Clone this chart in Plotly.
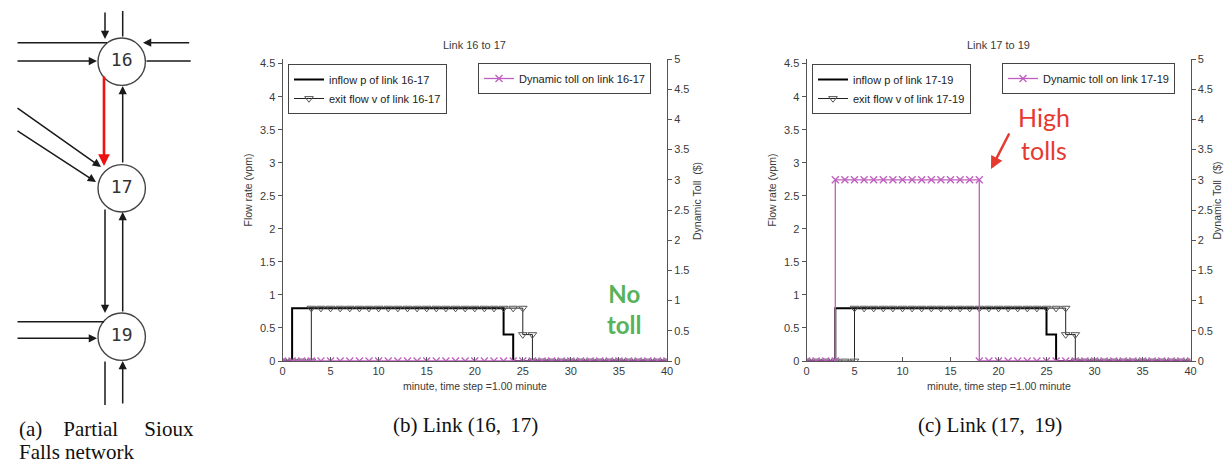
import plotly.graph_objects as go

# ---------------- data ----------------
minutes = list(range(41))

inflow_b = [0, 0.8, 0.8, 0.8, 0.8, 0.8, 0.8, 0.8, 0.8, 0.8, 0.8, 0.8, 0.8, 0.8, 0.8, 0.8, 0.8, 0.8, 0.8, 0.8,
            0.8, 0.8, 0.8, 0.4, 0, 0, 0, 0, 0, 0, 0, 0, 0, 0, 0, 0, 0, 0, 0, 0, 0]
exit_b = [0, 0, 0, 0.8, 0.8, 0.8, 0.8, 0.8, 0.8, 0.8, 0.8, 0.8, 0.8, 0.8, 0.8, 0.8, 0.8, 0.8, 0.8, 0.8,
          0.8, 0.8, 0.8, 0.8, 0.8, 0.4, 0, 0, 0, 0, 0, 0, 0, 0, 0, 0, 0, 0, 0, 0, 0]
toll_b = [0, 0, 0, 0, 0, 0, 0, 0, 0, 0, 0, 0, 0, 0, 0, 0, 0, 0, 0, 0,
          0, 0, 0, 0, 0, 0, 0, 0, 0, 0, 0, 0, 0, 0, 0, 0, 0, 0, 0, 0, 0]

inflow_c = [0, 0, 0, 0.8, 0.8, 0.8, 0.8, 0.8, 0.8, 0.8, 0.8, 0.8, 0.8, 0.8, 0.8, 0.8, 0.8, 0.8, 0.8, 0.8,
            0.8, 0.8, 0.8, 0.8, 0.8, 0.4, 0, 0, 0, 0, 0, 0, 0, 0, 0, 0, 0, 0, 0, 0, 0]
exit_c = [0, 0, 0, 0, 0, 0.8, 0.8, 0.8, 0.8, 0.8, 0.8, 0.8, 0.8, 0.8, 0.8, 0.8, 0.8, 0.8, 0.8, 0.8,
          0.8, 0.8, 0.8, 0.8, 0.8, 0.8, 0.8, 0.4, 0, 0, 0, 0, 0, 0, 0, 0, 0, 0, 0, 0, 0]
toll_c = [0, 0, 0, 3, 3, 3, 3, 3, 3, 3, 3, 3, 3, 3, 3, 3, 3, 3, 0, 0,
          0, 0, 0, 0, 0, 0, 0, 0, 0, 0, 0, 0, 0, 0, 0, 0, 0, 0, 0, 0, 0]

x_ticks = [0, 5, 10, 15, 20, 25, 30, 35, 40]
flow_ticks = [0, 0.5, 1, 1.5, 2, 2.5, 3, 3.5, 4, 4.5]
toll_ticks = [0, 0.5, 1, 1.5, 2, 2.5, 3, 3.5, 4, 4.5, 5]

# network diagram (panel a), in the diagram's own pixel-like units
node_ids = ["16", "17", "19"]
node_x = [121.7, 121.7, 121.7]
node_y = [61.7, 188.3, 336.7]
node_r = 23.7
# links: x0, y0, x1, y1, arrow (1 = arrowhead at x1,y1)
link_x0 = [105, 122.7, 16, 16, 190.7, 145, 122.7, 16, 16, 105, 122.7, 16, 16, 105, 122.7]
link_y0 = [11, 38, 42.7, 61, 42.7, 61, 164, 107, 130, 208, 313, 321.7, 338.3, 360, 405]
link_x1 = [105, 122.7, 107, 97, 143, 190.7, 122.7, 101, 96, 105, 122.7, 104, 97, 105, 122.7]
link_y1 = [39, 11, 42.7, 61, 42.7, 61, 86, 167, 182, 313, 212, 321.7, 338.3, 405, 361]
link_arrow = [1, 0, 0, 1, 1, 0, 1, 1, 1, 1, 1, 0, 1, 0, 1]
red_x0, red_y0, red_x1, red_y1 = [104], [75], [104], [166]


def stairs(t, v):
    xs, ys = [], []
    for i in range(len(t)):
        if i > 0 and v[i] != v[i - 1]:
            xs.append(t[i]); ys.append(v[i - 1])
        xs.append(t[i]); ys.append(v[i])
    return xs, ys


W, H = 1224, 463
def px(x): return x / W
def py(y): return 1 - y / H

PURPLE = "#bf5fbf"
TXT = "#3a3a3a"
FONT = "Liberation Sans"

fig = go.Figure()

panels = [
    dict(link="16-17", inflow=inflow_b, exit=exit_b, toll=toll_b, xa="x", ya="y", ya2="y2",
         lg1="legend", lg2="legend2"),
    dict(link="17-19", inflow=inflow_c, exit=exit_c, toll=toll_c, xa="x2", ya="y3", ya2="y4",
         lg1="legend3", lg2="legend4"),
]

for p in panels:
    xi, yi = stairs(minutes, p["inflow"])
    fig.add_trace(go.Scatter(x=xi, y=yi, mode="lines", line=dict(color="black", width=2),
                             name="inflow p of link " + p["link"], xaxis=p["xa"], yaxis=p["ya"],
                             legend=p["lg1"]))
    xe, ye = stairs(minutes, p["exit"])
    fig.add_trace(go.Scatter(x=xe, y=ye, mode="lines+markers", line=dict(color="#222", width=1),
                             marker=dict(symbol="triangle-down-open", size=7.5, color="#555",
                                         line=dict(width=1, color="#555")),
                             name="exit flow v of link " + p["link"], xaxis=p["xa"], yaxis=p["ya"],
                             legend=p["lg1"]))
    xt, yt = stairs(minutes, p["toll"])
    fig.add_trace(go.Scatter(x=xt, y=yt, mode="lines+markers", line=dict(color=PURPLE, width=1.3),
                             marker=dict(symbol="x-thin", size=7, color=PURPLE,
                                         line=dict(width=1.3, color=PURPLE)),
                             name="Dynamic toll on link " + p["link"], xaxis=p["xa"], yaxis=p["ya2"],
                             legend=p["lg2"]))

# diagram node labels
fig.add_trace(go.Scatter(x=node_x, y=node_y, mode="text", text=node_ids,
                         textfont=dict(family="DejaVu Sans Mono", size=18, color="#333"),
                         xaxis="x3", yaxis="y5", showlegend=False, hoverinfo="skip"))

shapes = []
for nx, ny in zip(node_x, node_y):
    shapes.append(dict(type="circle", xref="x3", yref="y5", x0=nx - node_r, x1=nx + node_r,
                       y0=ny - node_r, y1=ny + node_r, line=dict(color="#444", width=1.4),
                       fillcolor="rgba(0,0,0,0)", layer="above"))

annotations = []
for x0, y0, x1, y1, a in zip(link_x0, link_y0, link_x1, link_y1, link_arrow):
    annotations.append(dict(x=x1, y=y1, ax=x0, ay=y0, xref="x3", yref="y5", axref="x3", ayref="y5",
                            text="", showarrow=True, arrowhead=2 if a else 0, arrowsize=1.1,
                            arrowwidth=1.5, arrowcolor="#1a1a1a", standoff=0))
for x0, y0, x1, y1 in zip(red_x0, red_y0, red_x1, red_y1):
    annotations.append(dict(x=x1, y=y1, ax=x0, ay=y0, xref="x3", yref="y5", axref="x3", ayref="y5",
                            text="", showarrow=True, arrowhead=2, arrowsize=0.9,
                            arrowwidth=2.6, arrowcolor="#ee1111", standoff=0))


def label(x, y, text, size, color=TXT, family=FONT, angle=0, xanchor="center"):
    annotations.append(dict(x=px(x), y=py(y), xref="paper", yref="paper", text=text,
                            xanchor=xanchor, yanchor="middle", textangle=angle, showarrow=False,
                            font=dict(family=family, size=size, color=color)))


# panel geometry
top, bot = 59, 361
pb = (282.5, 667)
pc = (806.5, 1190.5)

label((pb[0] + pb[1]) / 2, 45, "Link 16 to 17", 11)
label((pc[0] + pc[1]) / 2, 45, "Link 17 to 19", 11)
for (l, r), rx in [(pb, 697), (pc, 1216.5)]:
    label((l + r) / 2, 386, "minute, time step =1.00 minute", 10.5)
    label(l - 35, 190, "Flow rate (vpm)", 10.5, angle=-90)
    label(rx, 201, "Dynamic Toll  ($)", 10.5, angle=-90)

# captions
CAP = "Liberation Serif"
label(17, 429, "(a)\u00a0\u00a0\u00a0\u00a0Partial\u00a0\u00a0\u00a0\u00a0\u00a0Sioux", 21, "#111", CAP,
      xanchor="left")
label(17, 452, "Falls network", 21, "#111", CAP, xanchor="left")
label(465, 425, "(b)\u00a0Link\u00a0(16,\u2009\u00a017)", 21, "#111", CAP)
label(990, 425, "(c)\u00a0Link\u00a0(17,\u2009\u00a019)", 21, "#111", CAP)

# callouts
label(624, 309, "<b>No<br>toll</b>", 24, "#58b25a", "Lato")
label(1044, 133, "High<br>tolls", 25, "#e53a2f", "Lato")
annotations.append(dict(x=px(991), y=py(169), xref="paper", yref="paper", ax=19, ay=-37, text="",
                        showarrow=True, arrowhead=2, arrowsize=1, arrowwidth=2.5,
                        arrowcolor="#e53a2f"))

axis_common = dict(showline=True, linecolor="#555", linewidth=1, showgrid=False, zeroline=False,
                   tickfont=dict(family=FONT, size=11, color=TXT), tickcolor="#555", ticklen=4)

ydom = [py(bot), py(top)]
legend_common = dict(bgcolor="white", bordercolor="#444", borderwidth=1, xanchor="left",
                     yanchor="top", tracegroupgap=0, itemwidth=30,
                     font=dict(family=FONT, size=11, color="#222"))

fig.update_layout(
    width=W, height=H, margin=dict(l=0, r=0, t=0, b=0, autoexpand=False),
    paper_bgcolor="white", plot_bgcolor="white",
    xaxis=dict(domain=[px(pb[0]), px(pb[1])], range=[0, 40], tickvals=x_ticks, ticks="inside",
               anchor="y", **axis_common),
    yaxis=dict(domain=ydom, range=[0, 4.57], tickvals=flow_ticks, ticks="outside", anchor="x",
               **axis_common),
    yaxis2=dict(overlaying="y", side="right", range=[0, 5], tickvals=toll_ticks, ticks="outside",
                anchor="x", **axis_common),
    xaxis2=dict(domain=[px(pc[0]), px(pc[1])], range=[0, 40], tickvals=x_ticks, ticks="inside",
                anchor="y3", **axis_common),
    yaxis3=dict(domain=ydom, range=[0, 4.57], tickvals=flow_ticks, ticks="outside", anchor="x2",
                **axis_common),
    yaxis4=dict(overlaying="y3", side="right", range=[0, 5], tickvals=toll_ticks, ticks="outside",
                anchor="x2", **axis_common),
    xaxis3=dict(domain=[0, px(200)], range=[0, 200], visible=False, anchor="y5"),
    yaxis5=dict(domain=[py(410), 1], range=[410, 0], visible=False, anchor="x3"),
    legend=dict(x=px(288), y=py(64), **legend_common),
    legend2=dict(x=px(478), y=py(63), **legend_common),
    legend3=dict(x=px(812), y=py(64), **legend_common),
    legend4=dict(x=px(1002), y=py(63), **legend_common),
    shapes=shapes, annotations=annotations, showlegend=True,
)

fig.write_html("out.html", config={"displayModeBar": False},
               post_script="document.body.style.margin='0';document.body.style.overflow='hidden';")
